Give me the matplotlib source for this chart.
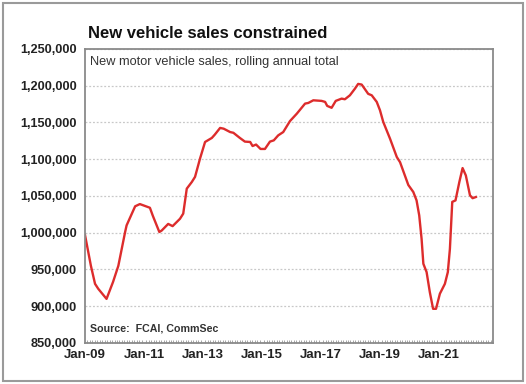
import matplotlib.pyplot as plt
import numpy as np
from matplotlib.patches import Rectangle
from matplotlib.ticker import FuncFormatter, MultipleLocator

plt.rcParams['font.family'] = ['Liberation Sans', 'DejaVu Sans']

# decimal year, rolling annual total
years = [2009.00, 2009.20, 2009.34, 2009.45, 2009.73, 2009.95, 2010.13, 2010.36, 2010.41,
         2010.70, 2010.86, 2011.20, 2011.30, 2011.52, 2011.60, 2011.82, 2011.97,
         2012.22, 2012.33, 2012.45, 2012.62, 2012.73, 2012.90, 2013.07, 2013.30,
         2013.40, 2013.58, 2013.70, 2013.92, 2014.03, 2014.25, 2014.42, 2014.60,
         2014.68, 2014.80, 2014.95, 2015.10, 2015.27, 2015.40, 2015.55, 2015.72,
         2015.95, 2016.18, 2016.46, 2016.57, 2016.74, 2017.02, 2017.14, 2017.21,
         2017.36, 2017.50, 2017.70, 2017.81, 2017.98, 2018.15, 2018.26, 2018.38,
         2018.60, 2018.72, 2018.89, 2019.00, 2019.11, 2019.34, 2019.57, 2019.68,
         2019.96, 2020.13, 2020.24, 2020.33, 2020.41, 2020.47, 2020.58, 2020.69,
         2020.80, 2020.90, 2021.03, 2021.20, 2021.30, 2021.37, 2021.45, 2021.56,
         2021.69, 2021.80, 2021.91, 2022.05, 2022.14, 2022.25]
sales = [997000, 955000, 930500, 923700, 910000, 933000, 955000, 1001000, 1010000,
         1036000, 1039000, 1034000, 1023000, 1001000, 1003000, 1012000, 1009000,
         1019000, 1026000, 1060000, 1069000, 1076000, 1101000, 1123500, 1129000,
         1133500, 1142600, 1141600, 1137000, 1136000, 1129000, 1124000, 1123500,
         1118000, 1120000, 1114000, 1114000, 1124000, 1125700, 1132500, 1137000,
         1152000, 1162000, 1175700, 1176600, 1180200, 1179400, 1178000, 1172600,
         1170000, 1179400, 1182500, 1181600, 1187000, 1196000, 1202500, 1201600,
         1189000, 1187000, 1178000, 1166600, 1150800, 1128000, 1103000, 1096000,
         1065000, 1055400, 1044000, 1023600, 991800, 957800, 946500, 919000,
         896500, 896500, 917000, 930500, 946500, 978000, 1042000, 1044000,
         1069000, 1088000, 1078000, 1051000, 1047000, 1048600]

tick_years = [2009, 2011, 2013, 2015, 2017, 2019, 2021]
tick_labels = ['Jan-09', 'Jan-11', 'Jan-13', 'Jan-15', 'Jan-17', 'Jan-19', 'Jan-21']

fig = plt.figure(figsize=(5.26, 3.84), dpi=100)
ax = fig.add_axes([0.1616, 0.1068, 0.7756, 0.7656])

ax.plot(years, sales, '-', color='#dd2c2c', lw=1.7, solid_joinstyle='round')

ax.set_ylim(850000, 1250000)
ax.set_xlim(2009, 2022.83)
ax.set_yticks(np.arange(850000, 1250001, 50000))
ax.yaxis.set_major_formatter(FuncFormatter(lambda v, p: '{:,.0f}'.format(v)))
ax.set_xticks(tick_years)
ax.set_xticklabels(tick_labels)
ax.xaxis.set_minor_locator(MultipleLocator(1 / 12))

ax.grid(axis='y', color='#c8c8c8', linestyle=(0, (1.5, 1.5)), lw=0.9)
ax.tick_params(axis='y', length=0, pad=6, labelsize=9.2, colors='#222222')
ax.tick_params(axis='x', which='major', length=0, pad=4, labelsize=9.5, colors='#222222')
ax.tick_params(axis='x', which='minor', direction='in', length=2.5, color='#999999', width=0.6)
for lbl in ax.get_xticklabels() + ax.get_yticklabels():
    lbl.set_fontweight('bold')
for s in ax.spines.values():
    s.set_color('#8a8a8a')
    s.set_linewidth(1.3)

fig.text(88 / 526, 1 - 33 / 384, 'New vehicle sales constrained', fontsize=12,
         fontweight='bold', color='#111111', va='center', ha='left')
ax.text(0.012, 0.955, 'New motor vehicle sales, rolling annual total', transform=ax.transAxes,
        fontsize=9.2, color='#333333', va='center', ha='left')
ax.text(0.012, 0.048, 'Source:  FCAI, CommSec', transform=ax.transAxes,
        fontsize=7.7, fontweight='bold', color='#333333', va='center', ha='left')

fig.patches.append(Rectangle((3 / 526, 3 / 384), 520 / 526, 378 / 384, transform=fig.transFigure,
                             fill=False, edgecolor='#9a9a9a', lw=1.5))

fig.savefig('out.png', dpi=100)
